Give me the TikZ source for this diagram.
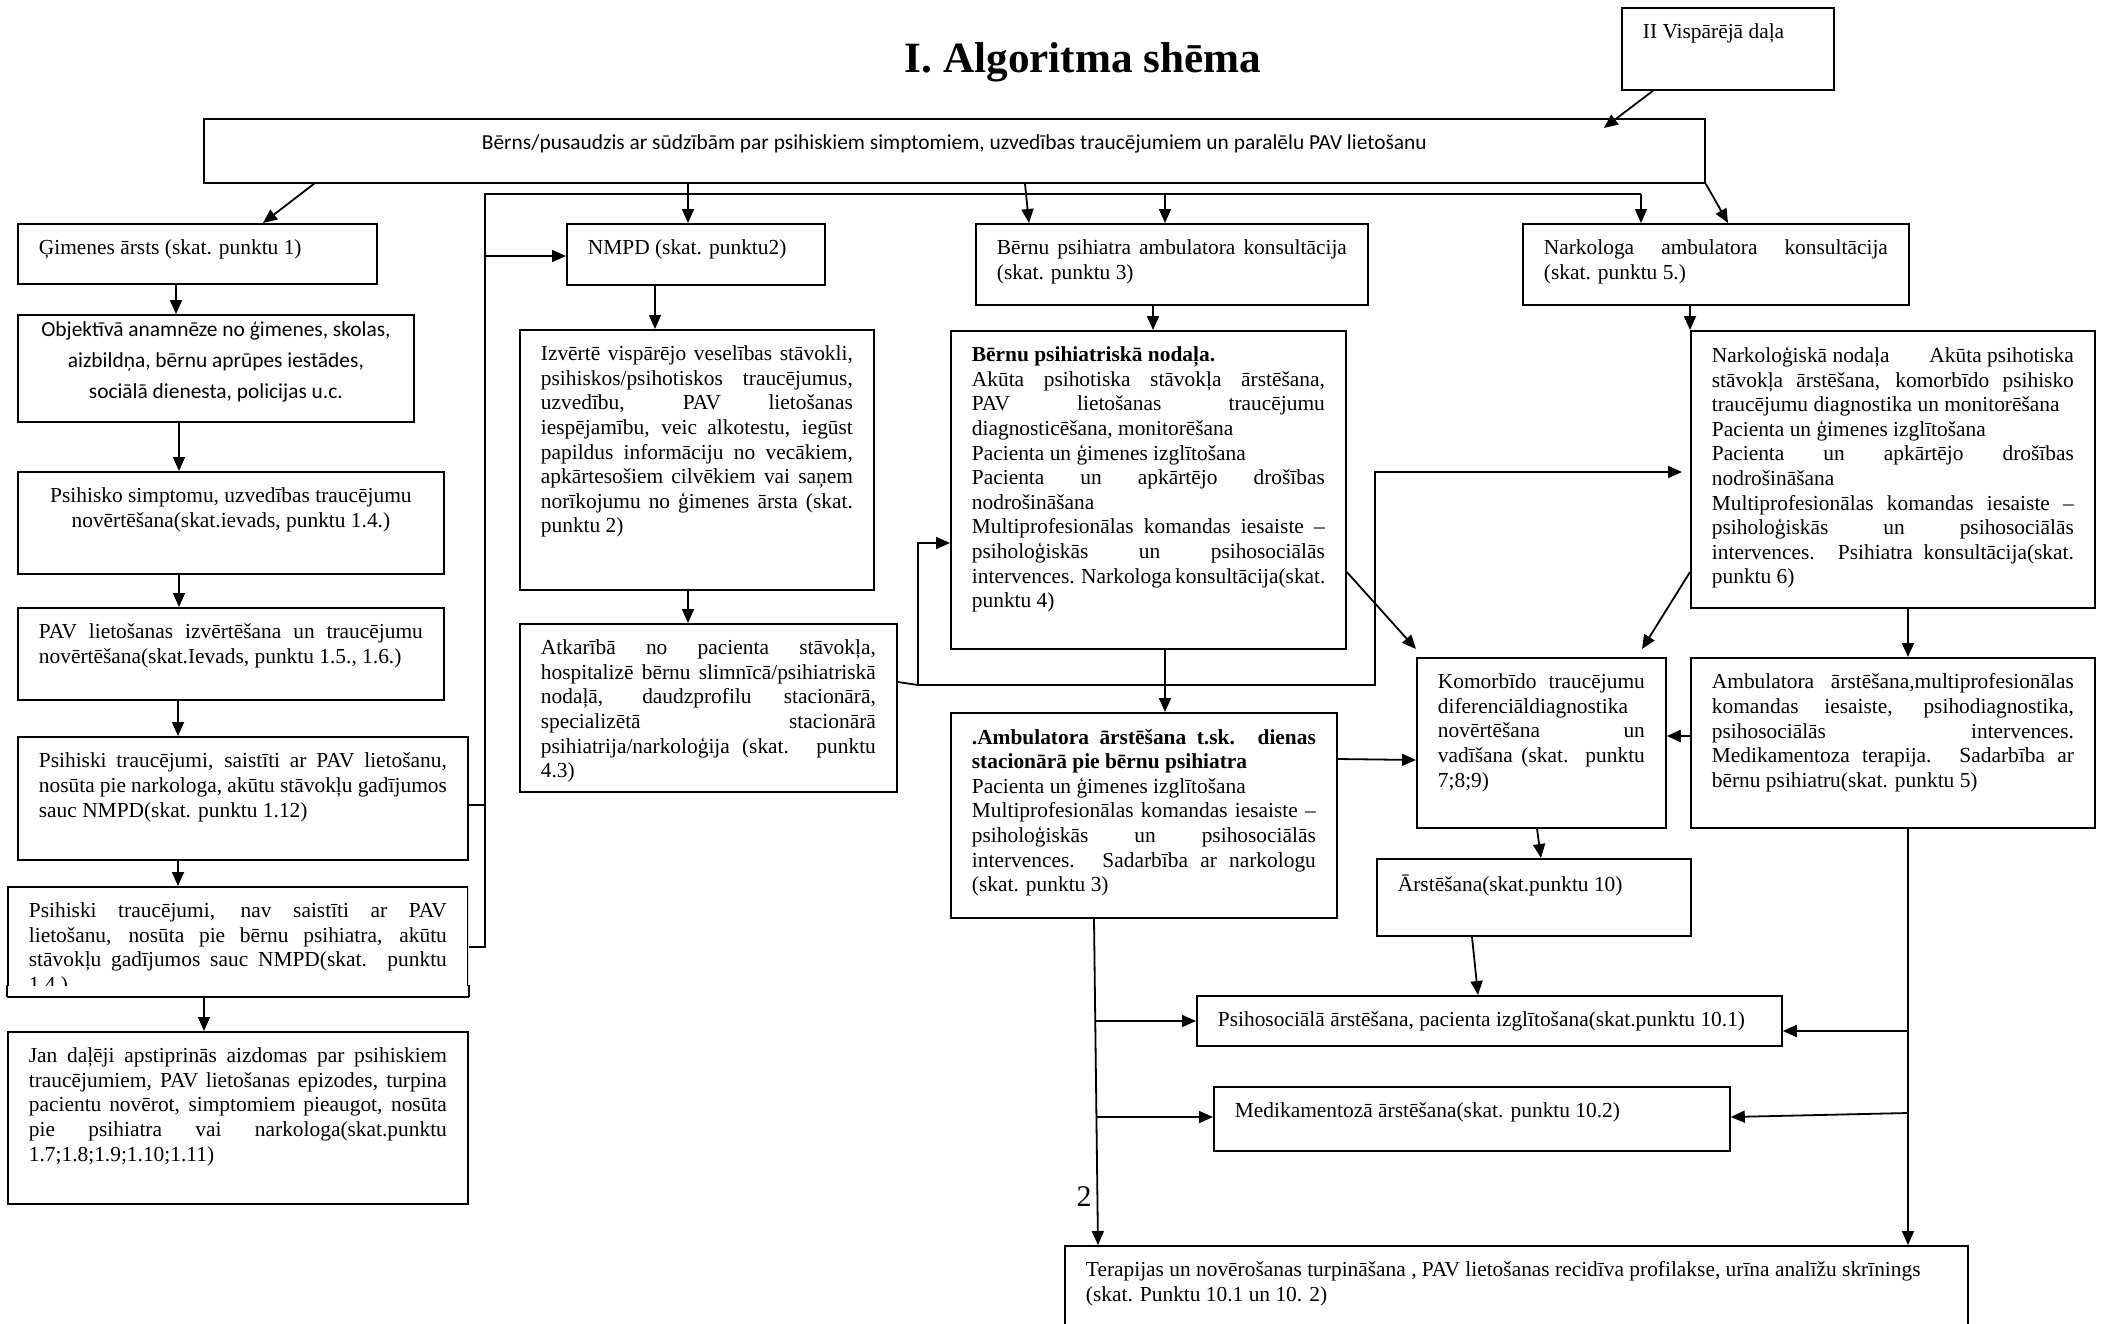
\documentclass[tikz,border=0pt]{standalone}
\usepackage{fontspec}
\setmainfont{Liberation Serif}
\newfontfamily\calibri{Carlito}
\usetikzlibrary{arrows.meta,calc}
\newlength\pxu
\setlength\pxu{0.5pt}
\newcommand\boxtxt[3]{\parbox[b][\dimexpr#2\pxu-16pt\relax][t]{\dimexpr#1\pxu-21pt\relax}{#3}}
\newcommand\calfont{\calibri\fontsize{10.7}{15.5}\selectfont}
\newcommand\midline[1]{\makebox[\linewidth]{#1}}
\newcommand\fullline[1]{\makebox[\linewidth][s]{#1}}
\tikzset{
  blok/.style={draw, line width=0.9pt, anchor=north west, inner xsep=10.5pt, inner ysep=8pt},
  arr/.style={line width=0.9pt, -{Triangle[length=7pt,width=6pt]}},
  lin/.style={line width=0.9pt}
}
\begin{document}
\begin{tikzpicture}[x=0.5pt,y=-0.5pt,every node/.style={font=\fontsize{10.7}{12.3}\selectfont}]
    \useasboundingbox (0,0) rectangle (2104,1323);
    \node[anchor=base,font=\fontsize{21.6}{26}\selectfont\bfseries] (title) at (1083,72) {I. Algoritma shēma};
    \node[blok] (vis) at (1621,7) {\boxtxt{212}{82}{II Vispārējā daļa}};
    \node[blok] (main) at (203,118) {\boxtxt{1501}{64}{\calfont\centering Bērns/pusaudzis ar sūdzībām par psihiskiem simptomiem, uzvedības traucējumiem un paralēlu PAV lietošanu}};

    % kreisa kolonna
    \node[blok] (gim) at (17,223) {\boxtxt{359}{60}{Ģimenes ārsts (skat. punktu 1)}};
    \node[blok] (obj) at (17,314) {\boxtxt{396}{107}{\vspace*{-9\pxu}\calfont\midline{Objektīvā anamnēze no ģimenes, skolas,}\\ \midline{aizbildņa, bērnu aprūpes iestādes,}\\ \midline{sociālā dienesta, policijas u.c.}}};
    \node[blok] (psi) at (17,471) {\boxtxt{426}{102}{\midline{Psihisko simptomu, uzvedības traucējumu}\\ \midline{novērtēšana(skat.ievads, punktu 1.4.)}}};
    \node[blok] (pav) at (17,607) {\boxtxt{426}{92}{PAV lietošanas izvērtēšana un traucējumu\linebreak novērtēšana(skat.Ievads, punktu 1.5., 1.6.)}};
    \node[blok] (sai) at (17,736) {\boxtxt{450}{123}{Psihiski traucējumi, saistīti ar PAV lietošanu,\linebreak nosūta pie narkologa, akūtu stāvokļu gadījumos\linebreak sauc NMPD(skat. punktu 1.12)}};
    \begin{scope}
        \clip (6,885) rectangle (468,985);
        \node[blok] (nav) at (7,886) {\boxtxt{460}{109}{Psihiski traucējumi, nav saistīti ar PAV\linebreak lietošanu, nosūta pie bērnu psihiatra, akūtu\linebreak stāvokļu gadījumos sauc NMPD(skat. punktu\linebreak 1.4.)}};
    \end{scope}
    \draw[lin] (nav.south west) -- (nav.south east);
    \draw[lin] (nav.south west) -- ++(0,-12);
    \draw[lin] (nav.south east) -- ++(0,-12);
    \node[blok] (jan) at (7,1031) {\boxtxt{460}{172}{Jan daļēji apstiprinās aizdomas par psihiskiem\linebreak traucējumiem, PAV lietošanas epizodes, turpina\linebreak pacientu novērot, simptomiem pieaugot, nosūta\linebreak pie psihiatra vai narkologa(skat.punktu\linebreak 1.7;1.8;1.9;1.10;1.11)}};

    % vidus
    \node[blok] (nmpd) at (566,223) {\boxtxt{258}{61}{NMPD (skat. punktu2)}};
    \node[blok] (izv) at (519,329) {\boxtxt{354}{260}{Izvērtē vispārējo veselības stāvokli,\linebreak psihiskos/psihotiskos traucējumus,\linebreak uzvedību, PAV lietošanas\linebreak iespējamību, veic alkotestu, iegūst\linebreak papildus informāciju no vecākiem,\linebreak apkārtesošiem cilvēkiem vai saņem\linebreak norīkojumu no ģimenes ārsta (skat.\linebreak punktu 2)}};
    \node[blok] (atk) at (519,623) {\boxtxt{377}{168}{Atkarībā no pacienta stāvokļa,\linebreak hospitalizē bērnu slimnīcā/psihiatriskā\linebreak nodaļā, daudzprofilu stacionārā,\linebreak specializētā stacionārā\linebreak psihiatrija/narkoloģija (skat. punktu\linebreak 4.3)}};
    \node[blok] (bpa) at (975,223) {\boxtxt{392}{81}{Bērnu psihiatra ambulatora konsultācija\linebreak (skat. punktu 3)}};
    \node[blok] (bpn) at (950,330) {\boxtxt{395}{318}{\textbf{Bērnu psihiatriskā nodaļa.}\par Akūta psihotiska stāvokļa ārstēšana,\linebreak PAV lietošanas traucējumu\linebreak diagnosticēšana, monitorēšana\par Pacienta un ģimenes izglītošana\par Pacienta un apkārtējo drošības\linebreak nodrošināšana\par Multiprofesionālas komandas iesaiste –\linebreak psiholoģiskās un psihosociālās\linebreak \fullline{intervences. Narkologa konsultācija(skat.}\\ punktu 4)}};
    \node[blok] (amb) at (950,712) {\boxtxt{386}{205}{\textbf{.Ambulatora ārstēšana t.sk. dienas\linebreak stacionārā pie bērnu psihiatra}\par Pacienta un ģimenes izglītošana\par Multiprofesionālas komandas iesaiste –\linebreak psiholoģiskās un psihosociālās\linebreak intervences. Sadarbība ar narkologu\linebreak (skat. punktu 3)}};

    % laba puse
    \node[blok] (nka) at (1522,223) {\boxtxt{386}{81}{Narkologa ambulatora konsultācija\linebreak (skat. punktu 5.)}};
    \node[blok] (nkn) at (1690,330) {\boxtxt{404}{277}{Narkoloģiskā nodaļa\hfill Akūta psihotiska\linebreak stāvokļa ārstēšana, komorbīdo psihisko\linebreak traucējumu diagnostika un monitorēšana\par Pacienta un ģimenes izglītošana\par Pacienta un apkārtējo drošības\linebreak nodrošināšana\par Multiprofesionālas komandas iesaiste –\linebreak psiholoģiskās un psihosociālās\linebreak intervences. Psihiatra konsultācija(skat.\linebreak punktu 6)}};
    \node[blok] (kom) at (1416,657) {\boxtxt{249}{170}{Komorbīdo traucējumu\linebreak diferenciāldiagnostika\newline novērtēšana un\linebreak vadīšana (skat. punktu\linebreak 7;8;9)}};
    \node[blok] (amb2) at (1690,657) {\boxtxt{404}{170}{Ambulatora ārstēšana,multiprofesionālas\linebreak komandas iesaiste, psihodiagnostika,\linebreak psihosociālās intervences.\linebreak Medikamentoza terapija. Sadarbība ar\linebreak bērnu psihiatru(skat. punktu 5)}};
    \node[blok] (ars) at (1376,858) {\boxtxt{314}{77}{Ārstēšana(skat.punktu 10)}};
    \node[blok] (psy) at (1196,995) {\boxtxt{585}{50}{Psihosociālā ārstēšana, pacienta izglītošana(skat.punktu 10.1)}};
    \node[blok] (med) at (1213,1086) {\boxtxt{516}{64}{Medikamentozā ārstēšana(skat. punktu 10.2)}};
    \node[blok] (ter) at (1064,1245) {\boxtxt{903}{110}{Terapijas un novērošanas turpināšana , PAV lietošanas recidīva profilakse, urīna analīžu skrīnings\\ (skat. Punktu 10.1 un 10. 2)}};
    \node[font=\fontsize{15}{18}\selectfont] (nr) at (1084,1197) {2};

    % savienojumi
    \coordinate (k1) at (485,194);
    \coordinate (k2) at (1641,194);
    \coordinate (k3) at (918,685);
    \coordinate (k4) at (1375,685);
    \coordinate (k5) at (1096,1021);
    \coordinate (k6) at (1097,1117);
    \coordinate (k7) at (1908,1031);
    \coordinate (k8) at (1908,1113);

    \draw[arr] ($(vis.south west)+(32,0)$) -- ($(main.north east)+(-102,10)$);
    \draw[arr] (main.south -| 314,0) -- (gim.north -| 263,0);
    \draw[arr] (main.south -| 688,0) -- (nmpd.north -| 688,0);
    \draw[arr] (main.south -| 1025,0) -- (bpa.north -| 1029,0);
    \draw[arr] (main.south east) -- (nka.north -| 1728,0);
    \draw[lin] (nav.east |- 0,947) -| (k1) -- (k2);
    \draw[lin] (sai.east |- 0,805) -- (k1 |- 0,805);
    \draw[arr] (k1 |- 0,256) -- (nmpd.west |- 0,256);
    \draw[arr] (k1 -| 1165,0) -- (bpa.north -| 1165,0);
    \draw[arr] (k2) -- (nka.north -| k2);

    \draw[arr] (gim.south -| 176,0) -- (obj.north -| 176,0);
    \draw[arr] (obj.south -| 179,0) -- (psi.north -| 179,0);
    \draw[arr] (psi.south -| 179,0) -- (pav.north -| 179,0);
    \draw[arr] (pav.south -| 178,0) -- (sai.north -| 178,0);
    \draw[arr] (sai.south -| 178,0) -- (nav.north -| 178,0);
    \draw[arr] (nav.south -| 204,0) -- (jan.north -| 204,0);

    \draw[arr] (nmpd.south -| 655,0) -- (izv.north -| 655,0);
    \draw[arr] (izv.south -| 688,0) -- (atk.north -| 688,0);
    \draw[arr] (atk.east |- 0,682) -- (k3) -- (k3 |- 0,543) -- (bpn.west |- 0,543);
    \draw[arr] (k3) -- (k4) -- (k4 |- 0,472) -- ($(nkn.west |- 0,472)+(-8,0)$);
    \draw[arr] (bpa.south -| 1153,0) -- (bpn.north -| 1153,0);
    \draw[arr] (bpn.south -| 1165,0) -- (amb.north -| 1165,0);
    \draw[arr] (bpn.east |- 0,572) -- ($(kom.north west)+(0,-8)$);
    \draw[arr] (nkn.west |- 0,572) -- ($(kom.north -| 1642,0)+(0,-8)$);
    \draw[arr] (nka.south -| nkn.west) -- (nkn.north west);
    \draw[arr] (amb.east |- 0,759) -- (kom.west |- 0,760);
    \draw[arr] (amb2.west |- 0,736) -- (kom.east |- 0,736);
    \draw[arr] (nkn.south -| 1908,0) -- (amb2.north -| 1908,0);
    \draw[arr] (kom.south -| 1537,0) -- (ars.north -| 1541,0);
    \draw[arr] (ars.south -| 1472,0) -- (psy.north -| 1478,0);

    \draw[arr] (amb.south -| 1094,0) -- (ter.north -| 1098,0);
    \draw[arr] (k5) -- (psy.west |- k5);
    \draw[arr] (k6) -- (med.west |- k6);
    \draw[arr] (amb2.south -| 1908,0) -- (ter.north -| 1908,0);
    \draw[arr] (k7) -- (psy.east |- k7);
    \draw[arr] (k8) -- (med.east |- 0,1117);
\end{tikzpicture}
\end{document}
